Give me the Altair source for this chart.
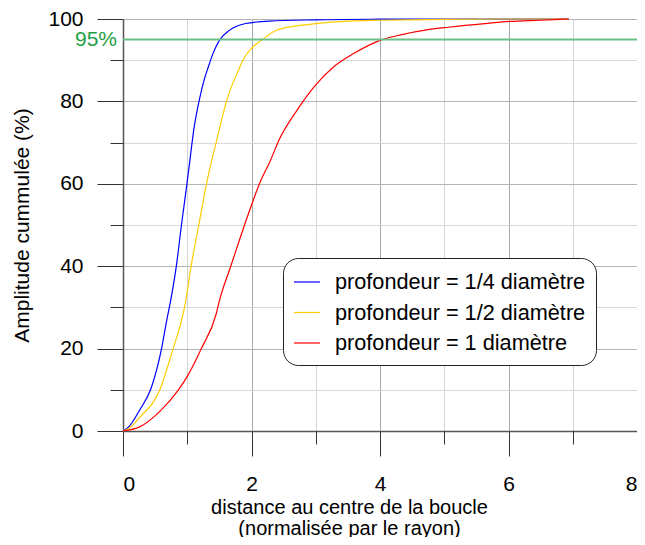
import altair as alt
import pandas as pd

series_names = [
    "profondeur = 1/4 diamètre",
    "profondeur = 1/2 diamètre",
    "profondeur = 1 diamètre",
]
series_colors = ["#0000ff", "#ffcc00", "#ff0000"]

x_quarter = [0, 0.1, 0.26, 0.44, 0.6, 0.68, 0.74, 0.83, 0.91, 0.995, 1.03, 1.11, 1.19, 1.27,
             1.32, 1.40, 1.50, 1.66, 1.91, 2.28, 3.0, 4.0, 5.0, 6.0, 6.94]
y_quarter = [0, 1.2, 5.1, 10.5, 20, 26.8, 31.5, 40, 50, 60, 64.3, 74, 80.5, 85.6,
             88, 91.6, 94.8, 97.3, 98.9, 99.5, 99.8, 99.95, 100, 100, 100]

x_half = [0, 0.1, 0.26, 0.57, 0.78, 0.91, 0.97, 1.06, 1.18, 1.30, 1.36, 1.45, 1.55, 1.62,
          1.71, 1.81, 1.86, 2.02, 2.17, 2.38, 2.79, 3.0, 3.51, 4.0, 5.0, 6.0, 6.94]
y_half = [0, 0.7, 3.3, 9.9, 20, 26.8, 31, 40, 50, 60, 64.3, 70, 76.5, 80.5,
          84.5, 88, 89.8, 93.2, 95, 97.2, 98.5, 98.9, 99.5, 99.7, 99.9, 100, 100]

x_one = [0, 0.26, 0.57, 0.86, 1.01, 1.22, 1.45, 1.50, 1.68, 1.94, 2.15, 2.29, 2.43, 2.71,
         3.0, 3.28, 3.59, 4.0, 4.34, 4.75, 5.06, 5.63, 6.02, 6.5, 6.94]
y_one = [0, 1.0, 4.7, 9.9, 13.5, 20, 28.4, 31.6, 40.1, 52.2, 61, 65.5, 70.7, 77.9,
         84, 88.4, 91.6, 94.8, 96.2, 97.4, 98.0, 98.9, 99.4, 99.7, 100]

threshold = 95
threshold_label = "95%"

x_major = [0, 2, 4, 6, 8]
x_minor = [1, 3, 5, 7]
y_major = [0, 20, 40, 60, 80, 100]
y_minor = [10, 30, 50, 70, 90]

rows = []
for name, xs, ys in zip(series_names, [x_quarter, x_half, x_one], [y_quarter, y_half, y_one]):
    for i, (a, b) in enumerate(zip(xs, ys)):
        rows.append({"serie": name, "x": a, "y": b, "i": i})
df = pd.DataFrame(rows)

FONT = "Liberation Sans"
FS = 21

x_scale = alt.Scale(domain=[0, 8], nice=False, zero=False)
y_scale = alt.Scale(domain=[0, 100], nice=False)

x_axis_major = alt.Axis(
    orient="bottom",
    values=x_major,
    format="d",
    tickSize=25,
    gridColor="#a8a8a8",
    labelPadding=17,
    labelFontSize=FS,
    labelColor="#000000",
    labelFont=FONT,
    title=["distance au centre de la boucle", "(normalisée par le rayon)"],
    titleFontSize=20,
    titleFontWeight="normal",
    titleFont=FONT,
    titleColor="#000000",
    titleLineHeight=21,
    titlePadding=3,
    titleX=226,
    domainColor="#555555",
    domainWidth=1.5,
    tickColor="#333333",
    tickWidth=1,
    grid=True,
)

y_axis_major = alt.Axis(
    orient="left",
    values=y_major,
    format="d",
    tickSize=26,
    gridColor="#b4b4b4",
    labelPadding=14,
    labelFontSize=FS,
    labelColor="#000000",
    labelFont=FONT,
    title="Amplitude cummulée (%)",
    titleFontSize=FS,
    titleFontWeight="normal",
    titleFont=FONT,
    titleColor="#000000",
    titlePadding=15,
    domainColor="#555555",
    domainWidth=1.5,
    tickColor="#333333",
    tickWidth=1,
    grid=True,
)

x_axis_minor = alt.Axis(
    orient="bottom",
    values=x_minor,
    tickSize=13,
    gridColor="#d4d4d4",
    labels=False,
    domain=False,
    title=None,
    tickColor="#333333",
    tickWidth=1,
    grid=True,
)

y_axis_minor = alt.Axis(
    orient="left",
    values=y_minor,
    tickSize=13,
    gridColor="#d8d8d8",
    labels=False,
    domain=False,
    title=None,
    tickColor="#333333",
    tickWidth=1,
    grid=True,
)

lines = alt.Chart(df).mark_line(strokeWidth=1.2, interpolate="monotone").encode(
    x=alt.X("x:Q", scale=x_scale, axis=x_axis_major),
    y=alt.Y("y:Q", scale=y_scale, axis=y_axis_major),
    color=alt.Color(
        "serie:N",
        scale=alt.Scale(domain=series_names, range=series_colors),
        sort=series_names,
        legend=alt.Legend(
            title=None,
            orient="none",
            legendX=160,
            legendY=239,
            fillColor="white",
            strokeColor="#222222",
            cornerRadius=15,
            padding=10,
            symbolType="stroke",
            symbolSize=676,
            symbolStrokeWidth=1.2,
            labelFontSize=21.7,
            labelFont=FONT,
            labelColor="#000000",
            labelOffset=14,
            rowPadding=4.5,
            labelLimit=400,
        ),
    ),
    order="i:Q",
)

rule = alt.Chart(pd.DataFrame({"y": [threshold]})).mark_rule(
    color="#6cc085", strokeWidth=2
).encode(y=alt.Y("y:Q", scale=y_scale, axis=None))

label = alt.Chart(pd.DataFrame({"x": [0], "y": [threshold], "t": [threshold_label]})).mark_text(
    align="right", baseline="middle", dx=-6, fontSize=FS, font=FONT, color="#22a045"
).encode(
    x=alt.X("x:Q", scale=x_scale, axis=x_axis_minor),
    y=alt.Y("y:Q", scale=y_scale, axis=y_axis_minor),
    text="t:N",
)

chart = alt.layer(lines, label, rule).resolve_axis(
    x="independent", y="independent"
).properties(
    width=514,
    height=412,
    autosize=alt.AutoSizeParams(type="none"),
    padding={"left": 115, "top": 11, "right": 0, "bottom": 106},
).configure_view(stroke=None).configure(font=FONT)

chart.save("out.html", embed_options={"renderer": "svg", "actions": False})
